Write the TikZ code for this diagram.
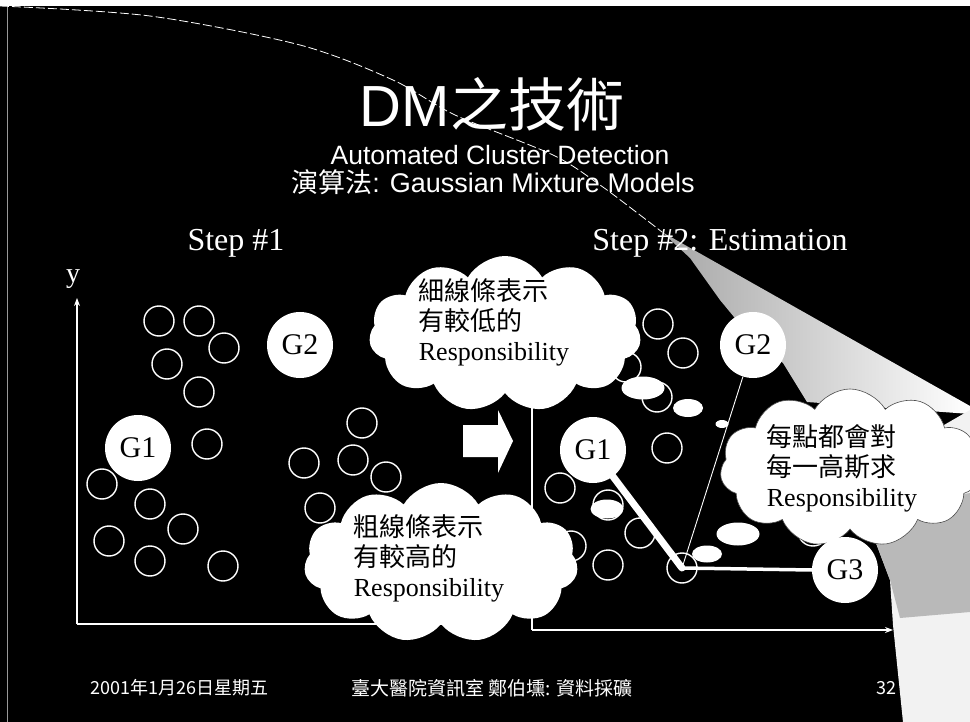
\documentclass[tikz,border=0pt]{standalone}
\usepackage{fontspec}
\setmainfont{Liberation Serif}
\newfontfamily\arialf{Liberation Sans}
\newfontfamily\cjkf{Noto Sans CJK TC}
\usetikzlibrary{shapes.symbols,shapes.geometric,arrows.meta}
\begin{document}
\begin{tikzpicture}[x=1pt,y=-1pt,
  dotc/.style={circle, draw=white, line width=1.4pt, minimum size=30pt, inner sep=0pt},
  gnode/.style={circle, fill=white, minimum size=66pt, inner sep=0pt, font=\fontsize{30}{30}\selectfont, text=black},
  bubble/.style={cloud, cloud puffs=11, cloud puff arc=120, fill=white, draw=black!70, line width=0.6pt, inner sep=0pt},
  trail/.style={ellipse, fill=white, inner sep=0pt},
  cloudtext/.style={align=left, text=black, font=\fontsize{26}{30}\selectfont, inner sep=0pt},
  axisline/.style={white, line width=1.2pt},
  arrowtip/.style={-{Stealth[length=8pt,width=6pt]}},
  wtext/.style={text=white, inner sep=0pt}
]
\useasboundingbox (0,0) rectangle (970,722);
\fill[black] (0,0) rectangle (970,722);
% scan border
\fill[white] (0,0) rectangle (970,6);
\draw[gray!80, line width=0.8pt] (7,6) -- (7,722);

% page curl (scan artefact)
\fill[left color=gray!70, middle color=white, right color=white]
  (662,232) -- (970,406) -- (970,414) -- (807,402) -- (783,363) -- (753,340) -- (720,300) -- (690,258) -- cycle;
\fill[gray!10] (866,470) -- (870,513) -- (876,543) -- (890,580) -- (893,625) -- (903,722) -- (970,722) -- (970,410) -- cycle;
\fill[gray!55] (872,515) -- (930,500) -- (970,493) -- (970,612) -- (900,618) -- (890,580) -- (876,543) -- cycle;
\draw[white, line width=0.8pt, dash pattern=on 9pt off 3pt]
  plot[smooth] coordinates {(0,6) (150,16) (300,45) (393,80) (455,115) (553,155) (600,185) (640,215) (662,232)};

% titles
\node[wtext, font=\fontsize{58}{60}\selectfont] (title) at (492,104) {{\arialf DM}{\cjkf 之技術}};
\node[wtext, font=\arialf\fontsize{26.5}{28}\selectfont] (sub1) at (500,155) {Automated Cluster Detection};
\node[wtext, font=\fontsize{27}{28}\selectfont] (sub2) at (493,182) {{\cjkf 演算法}{\arialf : Gaussian Mixture Models}};
\node[wtext, font=\fontsize{32}{34}\selectfont] (step1) at (236,243) {Step \#1};
\node[wtext, font=\fontsize{32}{34}\selectfont] (step2) at (720,243) {Step \#2: Estimation};

% left axes
\coordinate (lo) at (77,624);
\coordinate (ly) at (77,298);
\coordinate (lx) at (450,624);
\draw[axisline, arrowtip] (lo) -- (ly);
\draw[axisline] (lo) -- (lx);
\node[wtext, font=\fontsize{28}{28}\selectfont] (ylab) at (73,279) {y};

% right axes
\coordinate (ro) at (532,630);
\coordinate (ry) at (532,380);
\coordinate (rx) at (893,630);
\draw[axisline] (ry) -- (ro);
\draw[axisline, arrowtip] (ro) -- (rx);

% left points
\foreach \n/\x/\y in {p1/159/321, p2/199/321, p3/224/348, p4/167/364, p5/199/392, p6/207/444,
  p7/102/484, p8/150/504, p9/183/529, p10/109/541, p11/150/561, p12/223/566,
  p13/362/423, p14/304/463, p15/353/460, p16/386/477, p17/320/508}
  \node[dotc] (\n) at (\x,\y) {};

% right points
\foreach \n/\x/\y in {q1/658/324, q2/683/353, q3/626/367, q4/657/397, q5/667/448, q6/560/488,
  q7/608/505, q8/640/533, q9/608/565, q10/682/568, q11/571/546, q12/813/531}
  \node[dotc] (\n) at (\x,\y) {};

% left gaussians
\node[gnode] (G1l) at (138,448) {G1};
\node[gnode] (G2l) at (300,345) {G2};

% right gaussians
\node[gnode] (G1r) at (593,450) {G1};
\node[gnode] (G2r) at (753,345) {G2};

% responsibility lines
\draw[white, line width=7pt, line cap=round] (G1r) -- (q10.center);
\draw[white, line width=0.9pt] (G2r) -- (q10.center);

% cloud 3 and G3
\node[bubble, minimum width=260pt, minimum height=158pt] (c3) at (850,468) {};
\node[cloudtext] (t3) at (842,468) {{\cjkf 每點都會對}\\{\cjkf 每一高斯求}\\Responsibility};
\node[trail, minimum width=43pt, minimum height=23pt] (e31) at (738,534) {};
\node[trail, minimum width=30pt, minimum height=17pt] (e32) at (707,554) {};
\draw[white, line width=3.5pt] (q10.center) -- (812,570);
\node[gnode] (G3r) at (845,570) {G3};

% top cloud
\node[bubble, draw=none, minimum width=272pt, minimum height=156pt] (c1) at (505,334) {};
\node[cloudtext] (t1) at (494,322) {{\cjkf 細線條表示}\\{\cjkf 有較低的}\\Responsibility};
\node[trail, minimum width=43pt, minimum height=23pt] (e11) at (643,388) {};
\node[trail, minimum width=30pt, minimum height=18pt] (e12) at (688,408) {};
\node[trail, minimum width=13pt, minimum height=8pt] (e13) at (722,424) {};

% bottom cloud
\node[bubble, draw=none, minimum width=274pt, minimum height=160pt] (c2) at (441,563) {};
\node[cloudtext] (t2) at (429,558) {{\cjkf 粗線條表示}\\{\cjkf 有較高的}\\Responsibility};
\node[trail, minimum width=33pt, minimum height=19pt] (e21) at (607,509) {};

% block arrow
\fill[white] (463,425) -- (498,425) -- (498,410) -- (513,441) -- (498,473) -- (498,457) -- (463,457) -- cycle;

% footer
\node[wtext, anchor=west, font=\cjkf\fontsize{18}{18}\selectfont] (f1) at (90,688) {2001年1月26日星期五};
\node[wtext, anchor=west, font=\cjkf\fontsize{19}{19}\selectfont] (f2) at (351,688) {臺大醫院資訊室 鄭伯壎: 資料採礦};
\node[wtext, anchor=east, font=\cjkf\fontsize{18}{18}\selectfont] (f3) at (897,688) {32};
\end{tikzpicture}
\end{document}
